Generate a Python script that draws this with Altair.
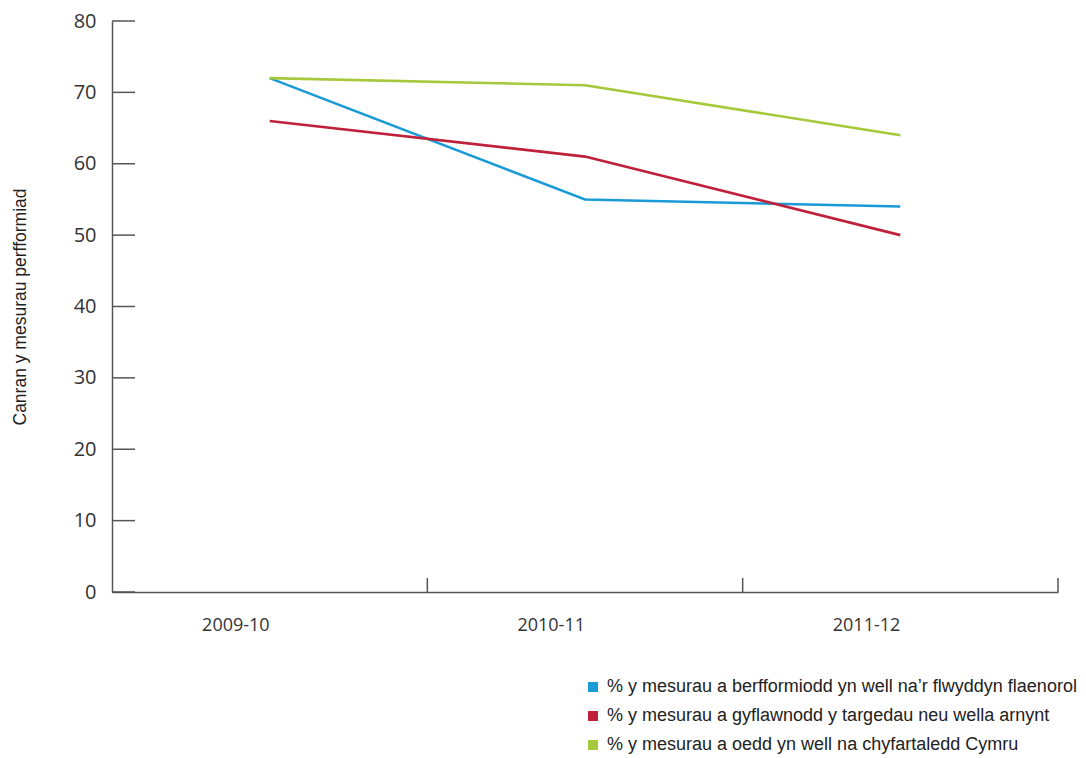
import altair as alt
import pandas as pd

years = ["2009-10", "2010-11", "2011-12"]
series_names = [
    "% y mesurau a berfformiodd yn well na’r flwyddyn flaenorol",
    "% y mesurau a gyflawnodd y targedau neu wella arnynt",
    "% y mesurau a oedd yn well na chyfartaledd Cymru",
]
blue_vals = [72, 55, 54]
red_vals = [66, 61, 50]
green_vals = [72, 71, 64]
colors = ["#1a9bd8", "#c0213a", "#a6c83b"]
y_ticks = [0, 10, 20, 30, 40, 50, 60, 70, 80]

rows = []
for name, vals in zip(series_names, [blue_vals, red_vals, green_vals]):
    for yr, v in zip(years, vals):
        rows.append({"year": yr, "series": name, "value": v})
df = pd.DataFrame(rows)
df_years = pd.DataFrame({"year": years})
df_ticks = pd.DataFrame({"value": y_ticks})

W, H = 946, 571
AXIS_COLOR = "#555555"

x_scale = alt.Scale(domain=years, paddingInner=0, paddingOuter=0)
y_scale = alt.Scale(domain=[0, 80], nice=False)

lines = alt.Chart(df).mark_line().encode(
    x=alt.X("year:N", scale=x_scale, sort=years,
            axis=alt.Axis(title=None, labelAngle=0, ticks=False, tickSize=0,
                          domainColor=AXIS_COLOR, domainWidth=1.5,
                          labelFont="Open Sans", labelFontSize=18,
                          labelColor="#333333", labelPadding=33)),
    y=alt.Y("value:Q", scale=y_scale,
            axis=alt.Axis(title="Canran y mesurau perfformiad", values=y_ticks,
                          ticks=False, tickSize=0, grid=False,
                          domainColor=AXIS_COLOR, domainWidth=1.5,
                          labelFont="Open Sans", labelFontSize=20,
                          labelColor="#333333", labelPadding=16,
                          titleFont="Liberation Sans", titleFontSize=17.5,
                          titleFontWeight="normal", titleColor="#222222",
                          titlePadding=44)),
    color=alt.Color("series:N",
                    scale=alt.Scale(domain=series_names, range=colors),
                    sort=series_names,
                    legend=alt.Legend(title=None, orient="none",
                                      legendX=472, legendY=657,
                                      symbolType="square", symbolSize=4,
                                      symbolStrokeWidth=8,
                                      labelFont="Liberation Sans",
                                      labelFontSize=18, labelColor="#222222",
                                      labelLimit=700, rowPadding=-5,
                                      labelOffset=5)),
    strokeWidth=alt.value(2.6),
)

y_tick_marks = alt.Chart(df_ticks).mark_rule(color=AXIS_COLOR, strokeWidth=1.5).encode(
    y=alt.Y("value:Q", scale=y_scale),
    x=alt.value(0),
    x2=alt.value(23),
)

x_tick_marks = alt.Chart(df_years).mark_rule(color=AXIS_COLOR, strokeWidth=1.5).encode(
    x=alt.X("year:N", scale=x_scale, sort=years, bandPosition=1),
    y=alt.value(H - 14),
    y2=alt.value(H),
)

chart = alt.layer(y_tick_marks, x_tick_marks, lines).properties(
    width=W,
    height=H,
    background="white",
    autosize=alt.AutoSizeParams(type="none"),
    padding={"left": 104, "top": 13, "right": 20, "bottom": 166},
).configure_view(strokeWidth=0)

chart.save("out.html", embed_options={"renderer": "svg", "actions": False})
